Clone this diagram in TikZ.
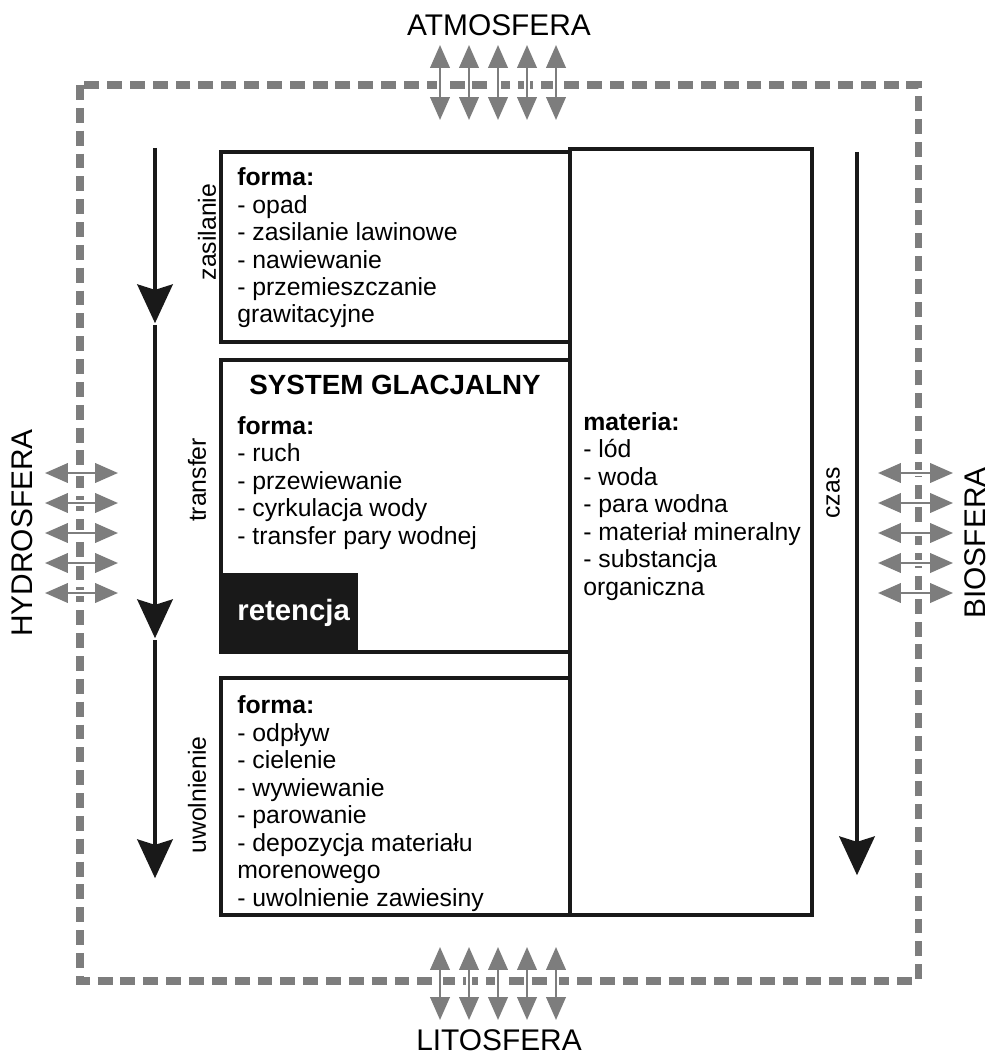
\documentclass[tikz,border=0pt]{standalone}
\usepackage{fontspec}
\setmainfont{Liberation Sans}
\usetikzlibrary{arrows.meta}
\definecolor{szary}{RGB}{125,125,125}
\definecolor{ciemny}{RGB}{25,25,25}
\tikzset{
	ramka/.style={draw=ciemny, line width=1.9pt},
	opis/.style={anchor=base west, align=left, inner sep=0pt, font=\fontsize{14.1}{15.65}\selectfont},
	etap/.style={rotate=90, inner sep=0pt, font=\fontsize{14.1}{15.65}\selectfont},
	sfera/.style={inner sep=0pt, font=\fontsize{17}{20}\selectfont},
	wymiana/.style={draw=szary, line width=1.5pt, {Triangle[length=13pt,width=11pt]}-{Triangle[length=13pt,width=11pt]}, preaction={draw=white, line width=3.5pt, -}},
	przeplyw/.style={draw=ciemny, line width=2.8pt, shorten >=1pt, -{Stealth[length=22pt,width=20pt,inset=3pt]}}
}

\begin{document}
\begin{tikzpicture}[x=0.02cm, y=-0.02cm]
	\useasboundingbox (0,0) rectangle (996,1060);
	\draw[draw=szary, line width=4pt, dash pattern=on 8.5pt off 4.5pt] (80,85) rectangle (918,981);

	% wymiana z otoczeniem
	\foreach \x in {440,469,498,527,556} {
		\draw[wymiana] (\x,45) -- (\x,120);
		\draw[wymiana] (\x,947) -- (\x,1020);
	}
	\foreach \y in {473,503,533,563,593} {
		\draw[wymiana] (45,\y) -- (118,\y);
		\draw[wymiana] (878,\y) -- (953,\y);
	}
	\node[sfera] (atm) at (499,25) {ATMOSFERA};
	\node[sfera] (lit) at (499,1040) {LITOSFERA};
	\node[sfera, rotate=90] (hyd) at (22,533) {HYDROSFERA};
	\node[sfera, rotate=90] (bio) at (975,543) {BIOSFERA};

	% bloki systemu
	\draw[ramka] (570,149) rectangle (812,915);
	\draw[ramka] (221,152) rectangle (570,342);
	\draw[ramka] (221,360) rectangle (570,652);
	\fill[ciemny] (221,573) rectangle (358,652);
	\draw[ramka] (221,678) rectangle (570,915);

	% kotwica = linia bazowa ostatniego wiersza
	\node[opis] (zas) at (237,323) {\textbf{forma:}\\- opad\\- zasilanie lawinowe\\- nawiewanie\\- przemieszczanie\\grawitacyjne};
	\node[inner sep=0pt, font=\bfseries\fontsize{15.8}{18}\selectfont] (sys) at (395,385) {SYSTEM GLACJALNY};
	\node[opis] (tra) at (237,544) {\textbf{forma:}\\- ruch\\- przewiewanie\\- cyrkulacja wody\\- transfer pary wodnej};
	\node[anchor=base west, inner sep=0pt, text=white, font=\bfseries\fontsize{16.7}{19}\selectfont] (ret) at (237,620) {retencja};
	\node[opis] (mat) at (583,595) {\textbf{materia:}\\- lód\\- woda\\- para wodna\\- materiał mineralny\\- substancja\\organiczna};
	\node[opis] (uwo) at (237,906) {\textbf{forma:}\\- odpływ\\- cielenie\\- wywiewanie\\- parowanie\\- depozycja materiału\\morenowego\\- uwolnienie zawiesiny};

	% przeplyw i czas
	\coordinate (p0) at (155,148);
	\coordinate (p1) at (155,325);
	\coordinate (p2) at (155,640);
	\coordinate (p3) at (155,880);
	\draw[przeplyw] (p0) -- (p1);
	\draw[przeplyw] (p1) -- (p2);
	\draw[przeplyw] (p2) -- (p3);
	\coordinate (c0) at (857,152);
	\coordinate (c1) at (857,877);
	\draw[przeplyw] (c0) -- (c1);

	\node[etap] (l1) at (207,232) {zasilanie};
	\node[etap] (l2) at (197,480) {transfer};
	\node[etap] (l3) at (197,795) {uwolnienie};
	\node[etap] (l4) at (833,493) {czas};
\end{tikzpicture}
\end{document}
